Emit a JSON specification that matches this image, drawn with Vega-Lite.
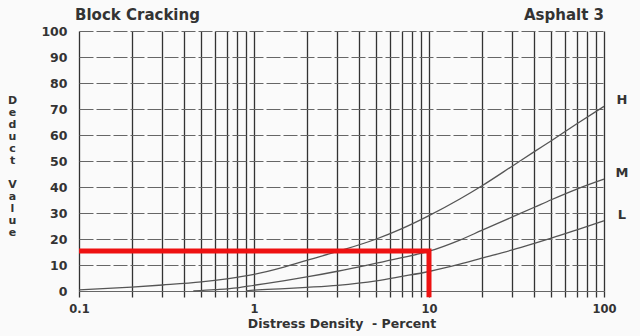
{
  "$schema": "https://vega.github.io/schema/vega-lite/v6.json",
  "width": 525,
  "height": 260,
  "autosize": "none",
  "padding": {"left": 79, "top": 31, "right": 36, "bottom": 45},
  "background": "#fafafa",
  "config": {"view": {"stroke": null}, "font": "DejaVu Sans"},
  "datasets": {
    "curves": [
      {"s": "H", "x": 0.1, "y": 0.4}, {"s": "H", "x": 0.2, "y": 1.5}, {"s": "H", "x": 0.3, "y": 2.3},
      {"s": "H", "x": 0.5, "y": 3.5}, {"s": "H", "x": 0.7, "y": 4.7}, {"s": "H", "x": 1, "y": 6.4},
      {"s": "H", "x": 1.5, "y": 9.3}, {"s": "H", "x": 2, "y": 11.8}, {"s": "H", "x": 3, "y": 15.2},
      {"s": "H", "x": 5, "y": 20}, {"s": "H", "x": 7, "y": 24}, {"s": "H", "x": 10, "y": 29},
      {"s": "H", "x": 15, "y": 35.4}, {"s": "H", "x": 20, "y": 40.4}, {"s": "H", "x": 30, "y": 48.1},
      {"s": "H", "x": 40, "y": 53.6}, {"s": "H", "x": 50, "y": 57.8}, {"s": "H", "x": 70, "y": 64.3},
      {"s": "H", "x": 100, "y": 71},
      {"s": "M", "x": 0.45, "y": 0}, {"s": "M", "x": 0.6, "y": 0.5}, {"s": "M", "x": 0.8, "y": 1.2},
      {"s": "M", "x": 1, "y": 2.2}, {"s": "M", "x": 1.5, "y": 4}, {"s": "M", "x": 2, "y": 5.4},
      {"s": "M", "x": 3, "y": 7.6}, {"s": "M", "x": 5, "y": 10.7}, {"s": "M", "x": 7, "y": 12.8},
      {"s": "M", "x": 10, "y": 15.3}, {"s": "M", "x": 15, "y": 19.6}, {"s": "M", "x": 20, "y": 23.3},
      {"s": "M", "x": 30, "y": 28.5}, {"s": "M", "x": 40, "y": 32.2}, {"s": "M", "x": 50, "y": 35.1},
      {"s": "M", "x": 70, "y": 39.2}, {"s": "M", "x": 100, "y": 43},
      {"s": "L", "x": 0.9, "y": 0}, {"s": "L", "x": 1, "y": 0.3}, {"s": "L", "x": 1.5, "y": 0.9},
      {"s": "L", "x": 2, "y": 1.4}, {"s": "L", "x": 3, "y": 2.2}, {"s": "L", "x": 5, "y": 3.9},
      {"s": "L", "x": 7, "y": 5.6}, {"s": "L", "x": 10, "y": 7.5}, {"s": "L", "x": 15, "y": 10.3},
      {"s": "L", "x": 20, "y": 12.6}, {"s": "L", "x": 30, "y": 15.8}, {"s": "L", "x": 40, "y": 18.3},
      {"s": "L", "x": 50, "y": 20.3}, {"s": "L", "x": 70, "y": 23.5}, {"s": "L", "x": 100, "y": 27}
    ],
    "marker": [
      {"o": 1, "x": 0.1, "y": 15.4},
      {"o": 2, "x": 10, "y": 15.4},
      {"o": 3, "x": 10, "y": -2.4}
    ],
    "heads": [
      {"x": 0.1, "y": 100, "t": "Block Cracking"}
    ],
    "heads2": [
      {"x": 100, "y": 100, "t": "Asphalt 3"}
    ]
  },
  "encoding": {
    "x": {
      "field": "x", "type": "quantitative",
      "scale": {"type": "log", "domain": [0.1, 100]},
      "axis": {
        "values": [0.1, 0.2, 0.3, 0.4, 0.5, 0.6, 0.7, 0.8, 0.9, 1, 2, 3, 4, 5, 6, 7, 8, 9, 10, 20, 30, 40, 50, 60, 70, 80, 90, 100],
        "labelExpr": "indexof([0.1, 1, 10, 100], datum.value) >= 0 ? format(datum.value, '~g') : ''",
        "labelOverlap": false,
        "labelFlush": false,
        "grid": true, "gridColor": "#333333", "gridWidth": 1.3, "gridOpacity": 1,
        "domain": true, "domainColor": "#666666", "domainWidth": 1,
        "ticks": true, "tickSize": 6, "tickColor": "#333333", "tickWidth": 1.3,
        "labelFontWeight": "bold", "labelFontSize": 11.5, "labelColor": "#333333", "labelPadding": 6,
        "title": "Distress Density\u00a0 - Percent",
        "titleFontSize": 12.5, "titleFontWeight": "bold", "titleColor": "#333333", "titlePadding": 3
      }
    },
    "y": {
      "field": "y", "type": "quantitative",
      "scale": {"domain": [0, 100], "nice": false},
      "axis": {
        "values": [0, 10, 20, 30, 40, 50, 60, 70, 80, 90, 100],
        "tickCount": 11,
        "labelOverlap": false,
        "grid": true, "gridColor": "#666666", "gridDash": [14, 3], "gridWidth": 1, "gridOpacity": 1,
        "domain": false, "ticks": false,
        "labelFontWeight": "bold", "labelFontSize": 12.5, "labelColor": "#333333", "labelPadding": 12,
        "title": ["D", "e", "d", "u", "c", "t", "\u200b", "V", "a", "l", "u", "e"],
        "titleAngle": 0, "titleAlign": "center", "titleBaseline": "top",
        "titleX": -67, "titleY": 63, "titleLineHeight": 12,
        "titleFontSize": 11, "titleFontWeight": "bold", "titleColor": "#333333"
      }
    }
  },
  "layer": [
    {
      "data": {"name": "curves"},
      "mark": {"type": "line", "interpolate": "monotone", "color": "#555555", "strokeWidth": 1.3},
      "encoding": {"detail": {"field": "s"}}
    },
    {
      "data": {"name": "marker"},
      "mark": {"type": "line", "color": "#ee1111", "strokeWidth": 5, "strokeJoin": "miter", "strokeCap": "butt"},
      "encoding": {"order": {"field": "o"}}
    },
    {
      "data": {"name": "curves"},
      "transform": [{"filter": "datum.x == 100"}],
      "mark": {"type": "text", "dx": 18, "dy": -6, "fontSize": 13, "fontWeight": "bold", "color": "#333333", "align": "center", "baseline": "middle"},
      "encoding": {"text": {"field": "s"}}
    },
    {
      "data": {"name": "heads"},
      "mark": {"type": "text", "dx": -4, "dy": -11, "fontSize": 15, "fontWeight": "bold", "color": "#333333", "align": "left", "baseline": "alphabetic"},
      "encoding": {"text": {"field": "t"}}
    },
    {
      "data": {"name": "heads2"},
      "mark": {"type": "text", "dx": 0, "dy": -11, "fontSize": 15, "fontWeight": "bold", "color": "#333333", "align": "right", "baseline": "alphabetic"},
      "encoding": {"text": {"field": "t"}}
    }
  ]
}
